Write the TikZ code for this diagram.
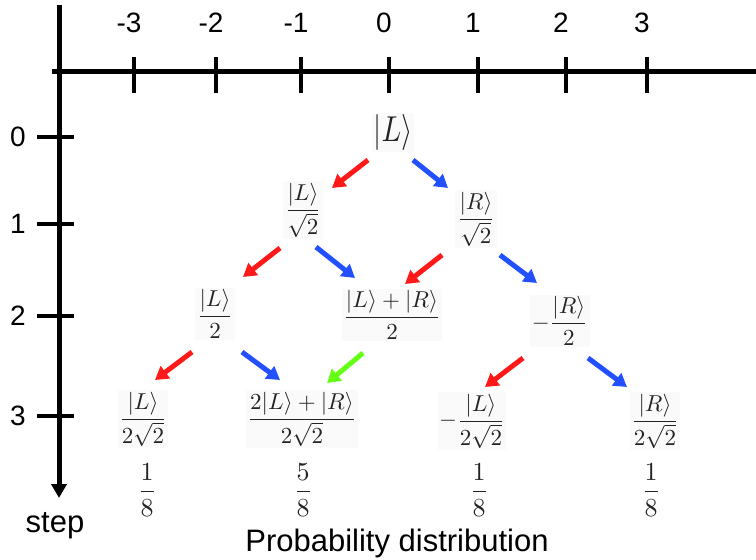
\documentclass[tikz,border=0pt]{standalone}
\usepackage[no-math]{fontspec}
\setmainfont{Liberation Sans}
\usepackage{graphicx}
\usetikzlibrary{arrows.meta}
\definecolor{arrred}{RGB}{255,25,25}
\definecolor{arrblue}{RGB}{35,80,255}
\definecolor{arrgreen}{RGB}{100,255,20}
\definecolor{mathgray}{RGB}{35,35,35}
\newcommand{\ampl}[1]{\scalebox{2.3}{$\displaystyle #1$}}
\newcommand{\probf}[1]{\scalebox{2.6}{$\displaystyle #1$}}
\begin{document}
\begin{tikzpicture}[x=1pt,y=-1pt,
  axisline/.style={line width=5pt},
  tickline/.style={line width=4.5pt},
  lbl/.style={font=\fontsize{28}{32}\selectfont, inner sep=0pt},
  word/.style={font=\fontsize{31}{35}\selectfont, inner sep=0pt, anchor=base},
  amp/.style={fill=black!2, inner sep=1.5pt, text=mathgray},
  prob/.style={inner sep=0pt, text=mathgray},
  walk/.style={line width=5pt, -{Triangle[length=13pt,width=15pt]}}
]
\useasboundingbox (0,0) rectangle (756,560);

% axes
\draw[axisline] (52,71) -- (756,71);
\draw[axisline, -{Triangle[length=14pt,width=15pt]}] (59,5) -- (59,498);

% top ticks and labels
\foreach \x/\t/\n in {134/-3/m3, 216/-2/m2, 301/-1/m1, 389/0/z, 478/1/p1, 566/2/p2, 647/3/p3}{
  \draw[tickline] (\x,57) -- (\x,93);
  \node[lbl] (top\n) at (\x-5,23) {\t};
}
% left ticks and labels
\foreach \y/\t in {137/0, 224/1, 316/2, 416/3}{
  \draw[tickline] (37,\y) -- (74,\y);
  \node[lbl] (left\t) at (18,\y) {\t};
}

\node[word] (steplabel) at (55,532) {step};
\node[word] (problabel) at (397,551) {Probability distribution};

% amplitude nodes
\node[amp] (n0) at (393,132) {\scalebox{2.9}[3.6]{$|L\rangle$}};
\node[amp] (a1) at (303,210) {\ampl{\frac{|L\rangle}{\sqrt{2}}}};
\node[amp] (b1) at (476,219) {\ampl{\frac{|R\rangle}{\sqrt{2}}}};
\node[amp] (a2) at (215,314) {\ampl{\frac{|L\rangle}{2}}};
\node[amp] (b2) at (392,315) {\ampl{\frac{|L\rangle+|R\rangle}{2}}};
\node[amp] (c2) at (560,321) {\ampl{-\frac{|R\rangle}{2}}};
\node[amp] (a3) at (143,419) {\ampl{\frac{|L\rangle}{2\sqrt{2}}}};
\node[amp] (b3) at (302,419) {\ampl{\frac{2|L\rangle+|R\rangle}{2\sqrt{2}}}};
\node[amp] (c3) at (472,421) {\ampl{-\frac{|L\rangle}{2\sqrt{2}}}};
\node[amp] (d3) at (655,421) {\ampl{\frac{|R\rangle}{2\sqrt{2}}}};

% probabilities
\node[prob] (q1) at (147,490) {\probf{\frac{1}{8}}};
\node[prob] (q2) at (303,490) {\probf{\frac{5}{8}}};
\node[prob] (q3) at (479,490) {\probf{\frac{1}{8}}};
\node[prob] (q4) at (651,490) {\probf{\frac{1}{8}}};

% walk arrows
\draw[walk, arrred]   ([shift={(-25,28)}]n0.center) -- ([shift={(29,-22)}]a1.center);
\draw[walk, arrblue]  ([shift={(20,28)}]n0.center)  -- ([shift={(-28,-31)}]b1.center);
\draw[walk, arrred]   ([shift={(-23,38)}]a1.center) -- ([shift={(28,-37)}]a2.center);
\draw[walk, arrblue]  ([shift={(13,37)}]a1.center)  -- ([shift={(-37,-37)}]b2.center);
\draw[walk, arrred]   ([shift={(-34,36)}]b1.center) -- ([shift={(13,-31)}]b2.center);
\draw[walk, arrblue]  ([shift={(24,36)}]b1.center)  -- ([shift={(-23,-38)}]c2.center);
\draw[walk, arrred]   ([shift={(-23,38)}]a2.center) -- ([shift={(12,-39)}]a3.center);
\draw[walk, arrblue]  ([shift={(27,38)}]a2.center)  -- ([shift={(-22,-39)}]b3.center);
\draw[walk, arrgreen] ([shift={(-29,38)}]b2.center) -- ([shift={(25,-36)}]b3.center);
\draw[walk, arrred]   ([shift={(-37,37)}]c2.center) -- ([shift={(13,-34)}]c3.center);
\draw[walk, arrblue]  ([shift={(28,37)}]c2.center)  -- ([shift={(-28,-34)}]d3.center);
\end{tikzpicture}
\end{document}
